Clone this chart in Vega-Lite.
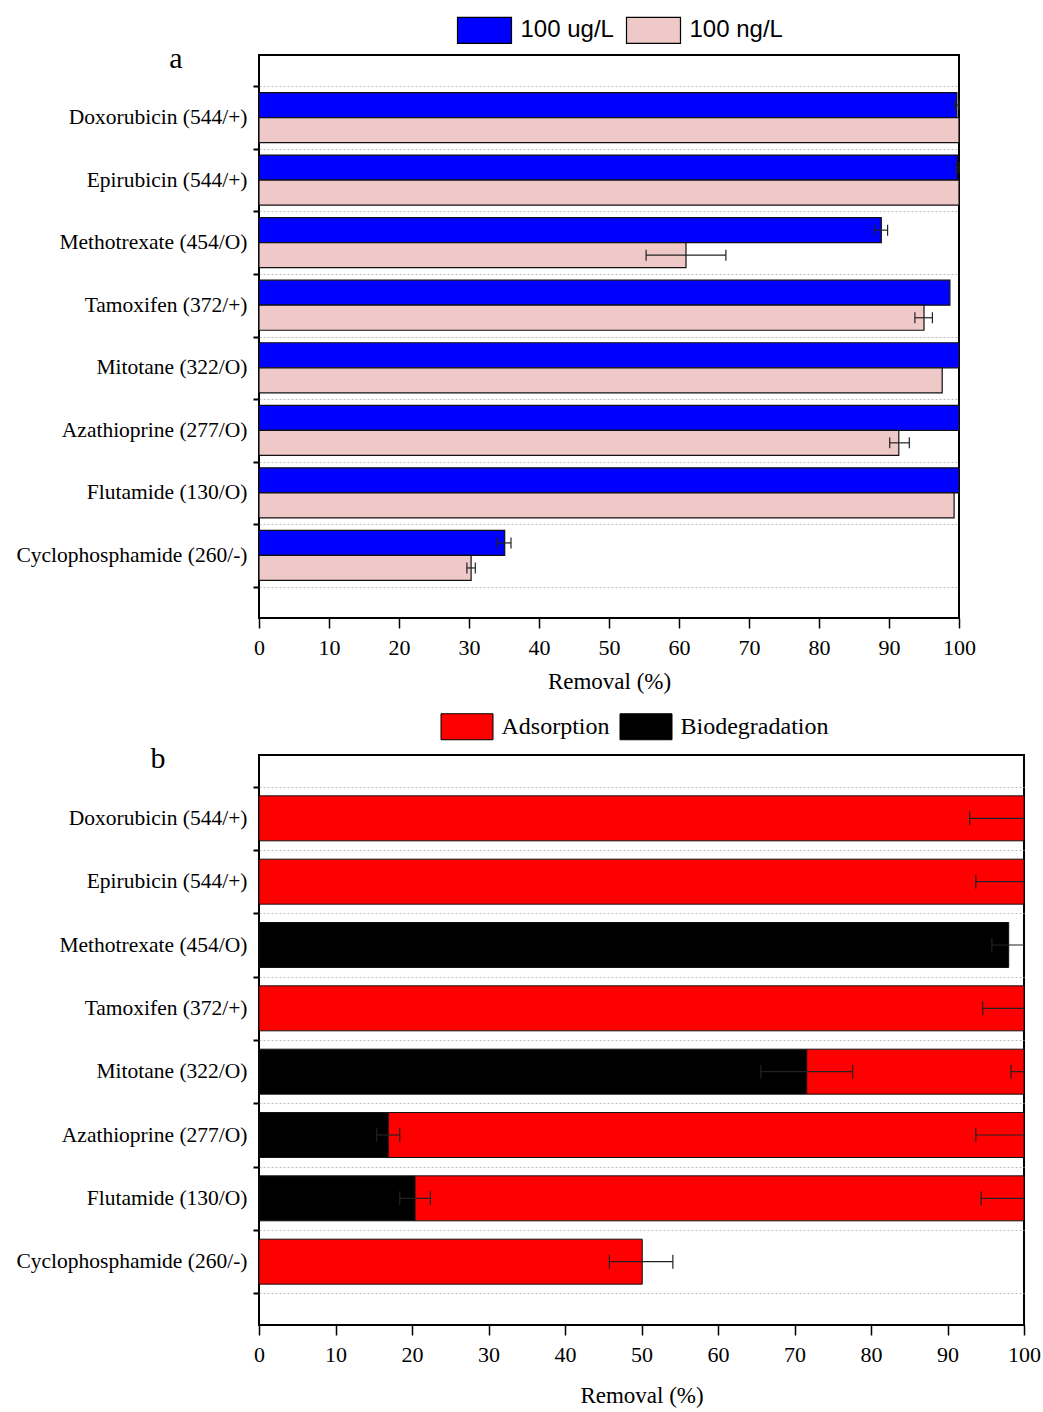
{
  "$schema": "https://vega.github.io/schema/vega-lite/v6.json",
  "background": "white",
  "padding": {"left": 14, "top": 1, "right": 5, "bottom": 4},
  "spacing": 5,
  "columns": 1,
  "align": "none",
  "resolve": {"scale": {"color": "independent"}, "legend": {"color": "independent"}},
  "config": {
    "view": {"stroke": "black", "strokeWidth": 2},
    "axis": {"labelFont": "Liberation Serif", "titleFont": "Liberation Serif", "labelColor": "black", "titleColor": "black", "tickColor": "black", "domain": false, "titleFontWeight": "normal", "labelLimit": 0}
  },
  "datasets": {
    "a": [
      {"compound": "Doxorubicin (544/+)", "conc": "100 ug/L", "value": 99.7, "elo": 99.4, "ehi": 100},
      {"compound": "Doxorubicin (544/+)", "conc": "100 ng/L", "value": 100},
      {"compound": "Epirubicin (544/+)", "conc": "100 ug/L", "value": 99.8, "elo": 99.6, "ehi": 100},
      {"compound": "Epirubicin (544/+)", "conc": "100 ng/L", "value": 100},
      {"compound": "Methotrexate (454/O)", "conc": "100 ug/L", "value": 88.9, "elo": 87.9, "ehi": 89.8},
      {"compound": "Methotrexate (454/O)", "conc": "100 ng/L", "value": 61.0, "elo": 55.3, "ehi": 66.7},
      {"compound": "Tamoxifen (372/+)", "conc": "100 ug/L", "value": 98.7},
      {"compound": "Tamoxifen (372/+)", "conc": "100 ng/L", "value": 95.0, "elo": 93.7, "ehi": 96.2},
      {"compound": "Mitotane (322/O)", "conc": "100 ug/L", "value": 100},
      {"compound": "Mitotane (322/O)", "conc": "100 ng/L", "value": 97.6},
      {"compound": "Azathioprine (277/O)", "conc": "100 ug/L", "value": 100},
      {"compound": "Azathioprine (277/O)", "conc": "100 ng/L", "value": 91.4, "elo": 90.1, "ehi": 92.9},
      {"compound": "Flutamide (130/O)", "conc": "100 ug/L", "value": 100},
      {"compound": "Flutamide (130/O)", "conc": "100 ng/L", "value": 99.3},
      {"compound": "Cyclophosphamide (260/-)", "conc": "100 ug/L", "value": 35.1, "elo": 34.0, "ehi": 36.0},
      {"compound": "Cyclophosphamide (260/-)", "conc": "100 ng/L", "value": 30.3, "elo": 29.7, "ehi": 30.9}
    ],
    "b": [
      {"compound": "Doxorubicin (544/+)", "process": "Adsorption", "lo": 0, "hi": 100, "elo": 92.9, "ehi": 107.1},
      {"compound": "Epirubicin (544/+)", "process": "Adsorption", "lo": 0, "hi": 100, "elo": 93.7, "ehi": 106.3},
      {"compound": "Methotrexate (454/O)", "process": "Biodegradation", "lo": 0, "hi": 98.0, "elo": 95.8, "ehi": 100.2},
      {"compound": "Tamoxifen (372/+)", "process": "Adsorption", "lo": 0, "hi": 100, "elo": 94.6, "ehi": 105.4},
      {"compound": "Mitotane (322/O)", "process": "Biodegradation", "lo": 0, "hi": 71.6, "elo": 65.6, "ehi": 77.6},
      {"compound": "Mitotane (322/O)", "process": "Adsorption", "lo": 71.6, "hi": 100, "elo": 98.3, "ehi": 101.7},
      {"compound": "Azathioprine (277/O)", "process": "Biodegradation", "lo": 0, "hi": 16.9, "elo": 15.4, "ehi": 18.4},
      {"compound": "Azathioprine (277/O)", "process": "Adsorption", "lo": 16.9, "hi": 100, "elo": 93.7, "ehi": 106.3},
      {"compound": "Flutamide (130/O)", "process": "Biodegradation", "lo": 0, "hi": 20.4, "elo": 18.4, "ehi": 22.4},
      {"compound": "Flutamide (130/O)", "process": "Adsorption", "lo": 20.4, "hi": 100, "elo": 94.4, "ehi": 105.6},
      {"compound": "Cyclophosphamide (260/-)", "process": "Adsorption", "lo": 0, "hi": 50.1, "elo": 45.8, "ehi": 54.1}
    ]
  },
  "concat": [
    {
      "width": 700,
      "height": 563,
      "data": {"name": "a"},
      "encoding": {
        "y": {
          "field": "compound", "type": "nominal",
          "sort": ["Doxorubicin (544/+)", "Epirubicin (544/+)", "Methotrexate (454/O)", "Tamoxifen (372/+)", "Mitotane (322/O)", "Azathioprine (277/O)", "Flutamide (130/O)", "Cyclophosphamide (260/-)"],
          "scale": {"paddingInner": 0, "paddingOuter": 0.5},
          "axis": {"title": "a", "titleAngle": 0, "titleX": -83.5, "titleY": 3, "titleFontSize": 30, "titleBaseline": "middle", "titleAlign": "center", "tickBand": "extent", "grid": true, "gridDash": [2, 2], "gridColor": "#bbbbbb", "tickSize": 6, "tickWidth": 2, "labelFontSize": 21.5, "labelPadding": 6}
        },
        "yOffset": {"field": "conc", "type": "nominal", "sort": ["100 ug/L", "100 ng/L"], "scale": {"paddingInner": 0, "paddingOuter": 0.25}}
      },
      "layer": [
        {
          "mark": {"type": "bar", "stroke": "#111111", "strokeWidth": 1.2},
          "encoding": {
            "x": {"field": "value", "type": "quantitative", "title": "Removal (%)", "scale": {"domain": [0, 100], "nice": false},
              "axis": {"values": [0, 10, 20, 30, 40, 50, 60, 70, 80, 90, 100], "grid": false, "tickSize": 10, "tickWidth": 1.5, "labelFontSize": 22, "labelPadding": 9, "labelFlush": false, "titleFontSize": 23, "titlePadding": 12}},
            "color": {"field": "conc", "type": "nominal", "scale": {"domain": ["100 ug/L", "100 ng/L"], "range": ["#0000ff", "#efc8c8"]},
              "legend": {"orient": "none", "legendX": 197.5, "legendY": -53, "direction": "horizontal", "title": null, "symbolType": "M-1,-0.48H1V0.48H-1Z", "symbolSize": 2916, "symbolStrokeColor": "black", "symbolStrokeWidth": 1.2, "symbolOpacity": 1, "labelFont": "Liberation Sans", "labelFontSize": 24, "labelColor": "black", "labelOffset": 8, "columnPadding": 9}}
          }
        },
        {
          "mark": {"type": "rule", "color": "#222222", "strokeWidth": 1.2},
          "encoding": {"x": {"field": "elo", "type": "quantitative", "title": "Removal (%)"}, "x2": {"field": "ehi"}}
        },
        {
          "mark": {"type": "tick", "color": "#222222", "size": 11, "thickness": 1.2, "opacity": 1},
          "encoding": {"x": {"field": "elo", "type": "quantitative", "title": "Removal (%)"}}
        },
        {
          "mark": {"type": "tick", "color": "#222222", "size": 11, "thickness": 1.2, "opacity": 1},
          "encoding": {"x": {"field": "ehi", "type": "quantitative", "title": "Removal (%)"}}
        }
      ]
    },
    {
      "width": 765,
      "height": 570,
      "data": {"name": "b"},
      "encoding": {
        "y": {
          "field": "compound", "type": "nominal",
          "sort": ["Doxorubicin (544/+)", "Epirubicin (544/+)", "Methotrexate (454/O)", "Tamoxifen (372/+)", "Mitotane (322/O)", "Azathioprine (277/O)", "Flutamide (130/O)", "Cyclophosphamide (260/-)"],
          "scale": {"paddingInner": 0, "paddingOuter": 0.5},
          "axis": {"title": "b", "titleAngle": 0, "titleX": -101.5, "titleY": 3, "titleFontSize": 30, "titleBaseline": "middle", "titleAlign": "center", "tickBand": "extent", "grid": true, "gridDash": [2, 2], "gridColor": "#bbbbbb", "tickSize": 6, "tickWidth": 2, "labelFontSize": 21.5, "labelPadding": 6}
        }
      },
      "layer": [
        {
          "mark": {"type": "bar", "stroke": "#111111", "strokeWidth": 1, "height": {"band": 0.71}},
          "encoding": {
            "x": {"field": "lo", "type": "quantitative", "title": "Removal (%)", "scale": {"domain": [0, 100], "nice": false},
              "axis": {"values": [0, 10, 20, 30, 40, 50, 60, 70, 80, 90, 100], "grid": false, "tickSize": 10, "tickWidth": 1.5, "labelFontSize": 22, "labelPadding": 9, "labelFlush": false, "titleFontSize": 23, "titlePadding": 19}},
            "x2": {"field": "hi"},
            "color": {"field": "process", "type": "nominal", "scale": {"domain": ["Adsorption", "Biodegradation"], "range": ["#ff0000", "#000000"]},
              "legend": {"orient": "none", "legendX": 181.5, "legendY": -55, "direction": "horizontal", "title": null, "symbolType": "M-1,-0.5H1V0.5H-1Z", "symbolSize": 2704, "symbolStrokeColor": "black", "symbolStrokeWidth": 1, "symbolOpacity": 1, "labelFont": "Liberation Serif", "labelFontSize": 24, "labelColor": "black", "labelOffset": 8, "columnPadding": 8}}
          }
        },
        {
          "mark": {"type": "rule", "color": "#222222", "strokeWidth": 1.2, "clip": true},
          "encoding": {"x": {"field": "elo", "type": "quantitative", "title": "Removal (%)"}, "x2": {"field": "ehi"}}
        },
        {
          "mark": {"type": "tick", "color": "#222222", "size": 14, "thickness": 1.2, "opacity": 1, "clip": true},
          "encoding": {"x": {"field": "elo", "type": "quantitative", "title": "Removal (%)"}}
        },
        {
          "mark": {"type": "tick", "color": "#222222", "size": 14, "thickness": 1.2, "opacity": 1, "clip": true},
          "encoding": {"x": {"field": "ehi", "type": "quantitative", "title": "Removal (%)"}}
        }
      ]
    }
  ]
}
